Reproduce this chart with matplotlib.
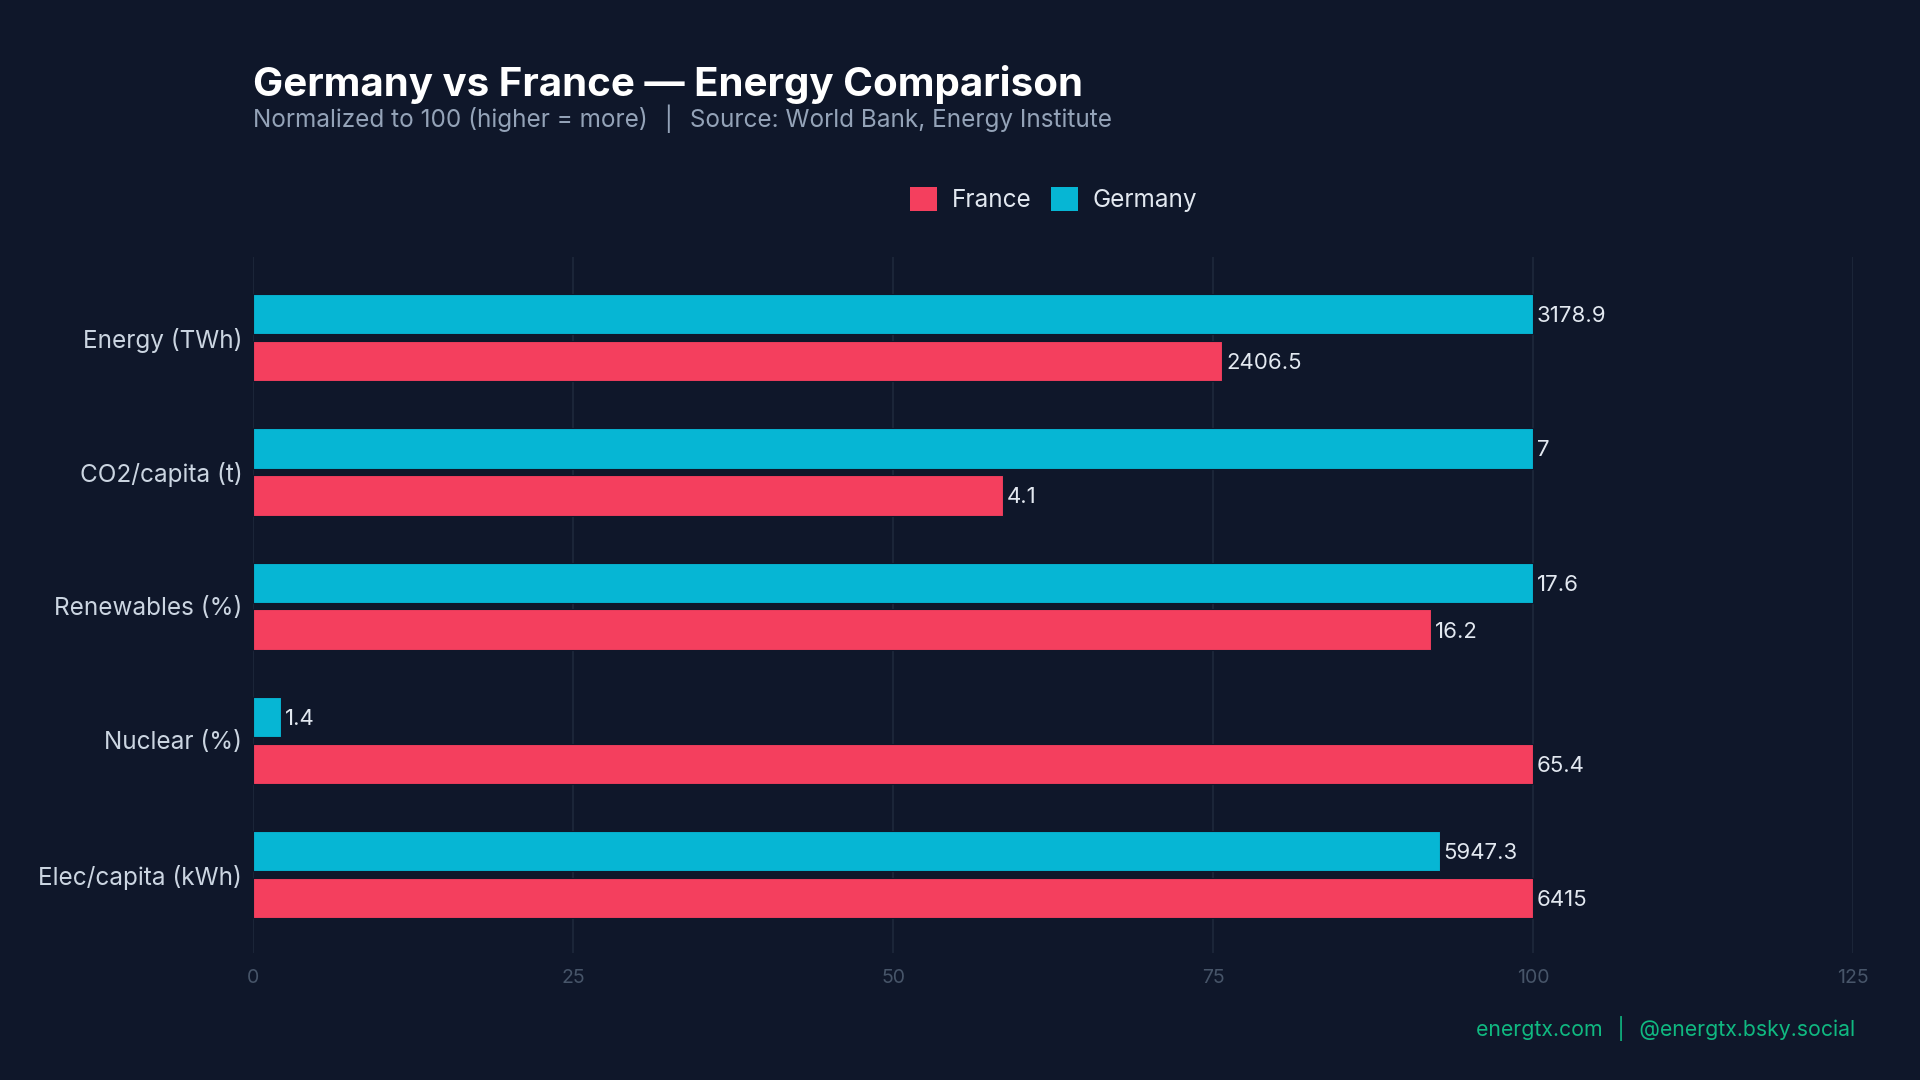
import numpy as np
import matplotlib
matplotlib.use('Agg')
import matplotlib.pyplot as plt
from matplotlib.patches import Patch

# raw values, one metric per row
metrics = ["Energy (TWh)", "CO2/capita (t)", "Renewables (%)", "Nuclear (%)", "Elec/capita (kWh)"]
germany = [3178.9, 7, 17.6, 1.4, 5947.3]
france = [2406.5, 4.1, 16.2, 65.4, 6415]

BG = '#0f172a'
GRID = '#1e293b'
C_DE = '#06b6d4'
C_FR = '#f43f5e'

plt.rcParams['font.family'] = ['Inter', 'DejaVu Sans']

# normalise each metric so the larger country = 100
ger = np.array(germany, dtype=float)
fra = np.array(france, dtype=float)
top = np.maximum(ger, fra)
ger_n = ger / top * 100
fra_n = fra / top * 100

fig = plt.figure(figsize=(19.2, 10.8), dpi=100, facecolor=BG)
ax = fig.add_axes([0.132, 0.118, 0.833, 0.644])
ax.set_facecolor(BG)

y = np.arange(len(metrics))
h = 0.30
off = 0.175
ax.barh(y - off, ger_n, height=h, color=C_DE, edgecolor=BG, linewidth=0.8, zorder=3)
ax.barh(y + off, fra_n, height=h, color=C_FR, edgecolor=BG, linewidth=0.8, zorder=3)

for i in range(len(metrics)):
    ax.text(ger_n[i] + 0.3, y[i] - off, f"{germany[i]:g}", va='center_baseline', ha='left',
            color='#e2e8f0', fontsize=16, zorder=4)
    ax.text(fra_n[i] + 0.3, y[i] + off, f"{france[i]:g}", va='center_baseline', ha='left',
            color='#e2e8f0', fontsize=16, zorder=4)

ax.set_xlim(0, 125)
ax.set_ylim(len(metrics) - 0.42, -0.6)
ax.set_xticks([0, 25, 50, 75, 100, 125])
ax.set_yticks(y)
ax.set_yticklabels(metrics)
ax.tick_params(axis='x', colors='#475569', labelsize=14, length=0, pad=12)
ax.tick_params(axis='y', colors='#cbd5e1', labelsize=17.5, length=0, pad=8)
ax.grid(axis='x', color=GRID, linewidth=1.2, zorder=0)
for s in ax.spines.values():
    s.set_visible(False)

fig.text(0.132, 0.911, "Germany vs France \u2014 Energy Comparison", color='white',
         fontsize=29, fontweight='bold', va='baseline', ha='left')
fig.text(0.132, 0.882, "Normalized to 100 (higher = more)  \u2502  Source: World Bank, Energy Institute",
         color='#94a3b8', fontsize=17.5, va='baseline', ha='left')

handles = [Patch(facecolor=C_FR, label='France'), Patch(facecolor=C_DE, label='Germany')]
leg = fig.legend(handles=handles, loc='center', bbox_to_anchor=(0.5487, 0.815), ncol=2,
                 frameon=False, fontsize=17.5, handlelength=1.1, handleheight=1.1,
                 handletextpad=0.6, columnspacing=0.8)
for t in leg.get_texts():
    t.set_color('#e2e8f0')

fig.text(0.966, 0.041, "energtx.com  \u2502  @energtx.bsky.social", color='#10b981',
         fontsize=15.3, va='baseline', ha='right')

fig.savefig('out.png', dpi=100, facecolor=BG)
